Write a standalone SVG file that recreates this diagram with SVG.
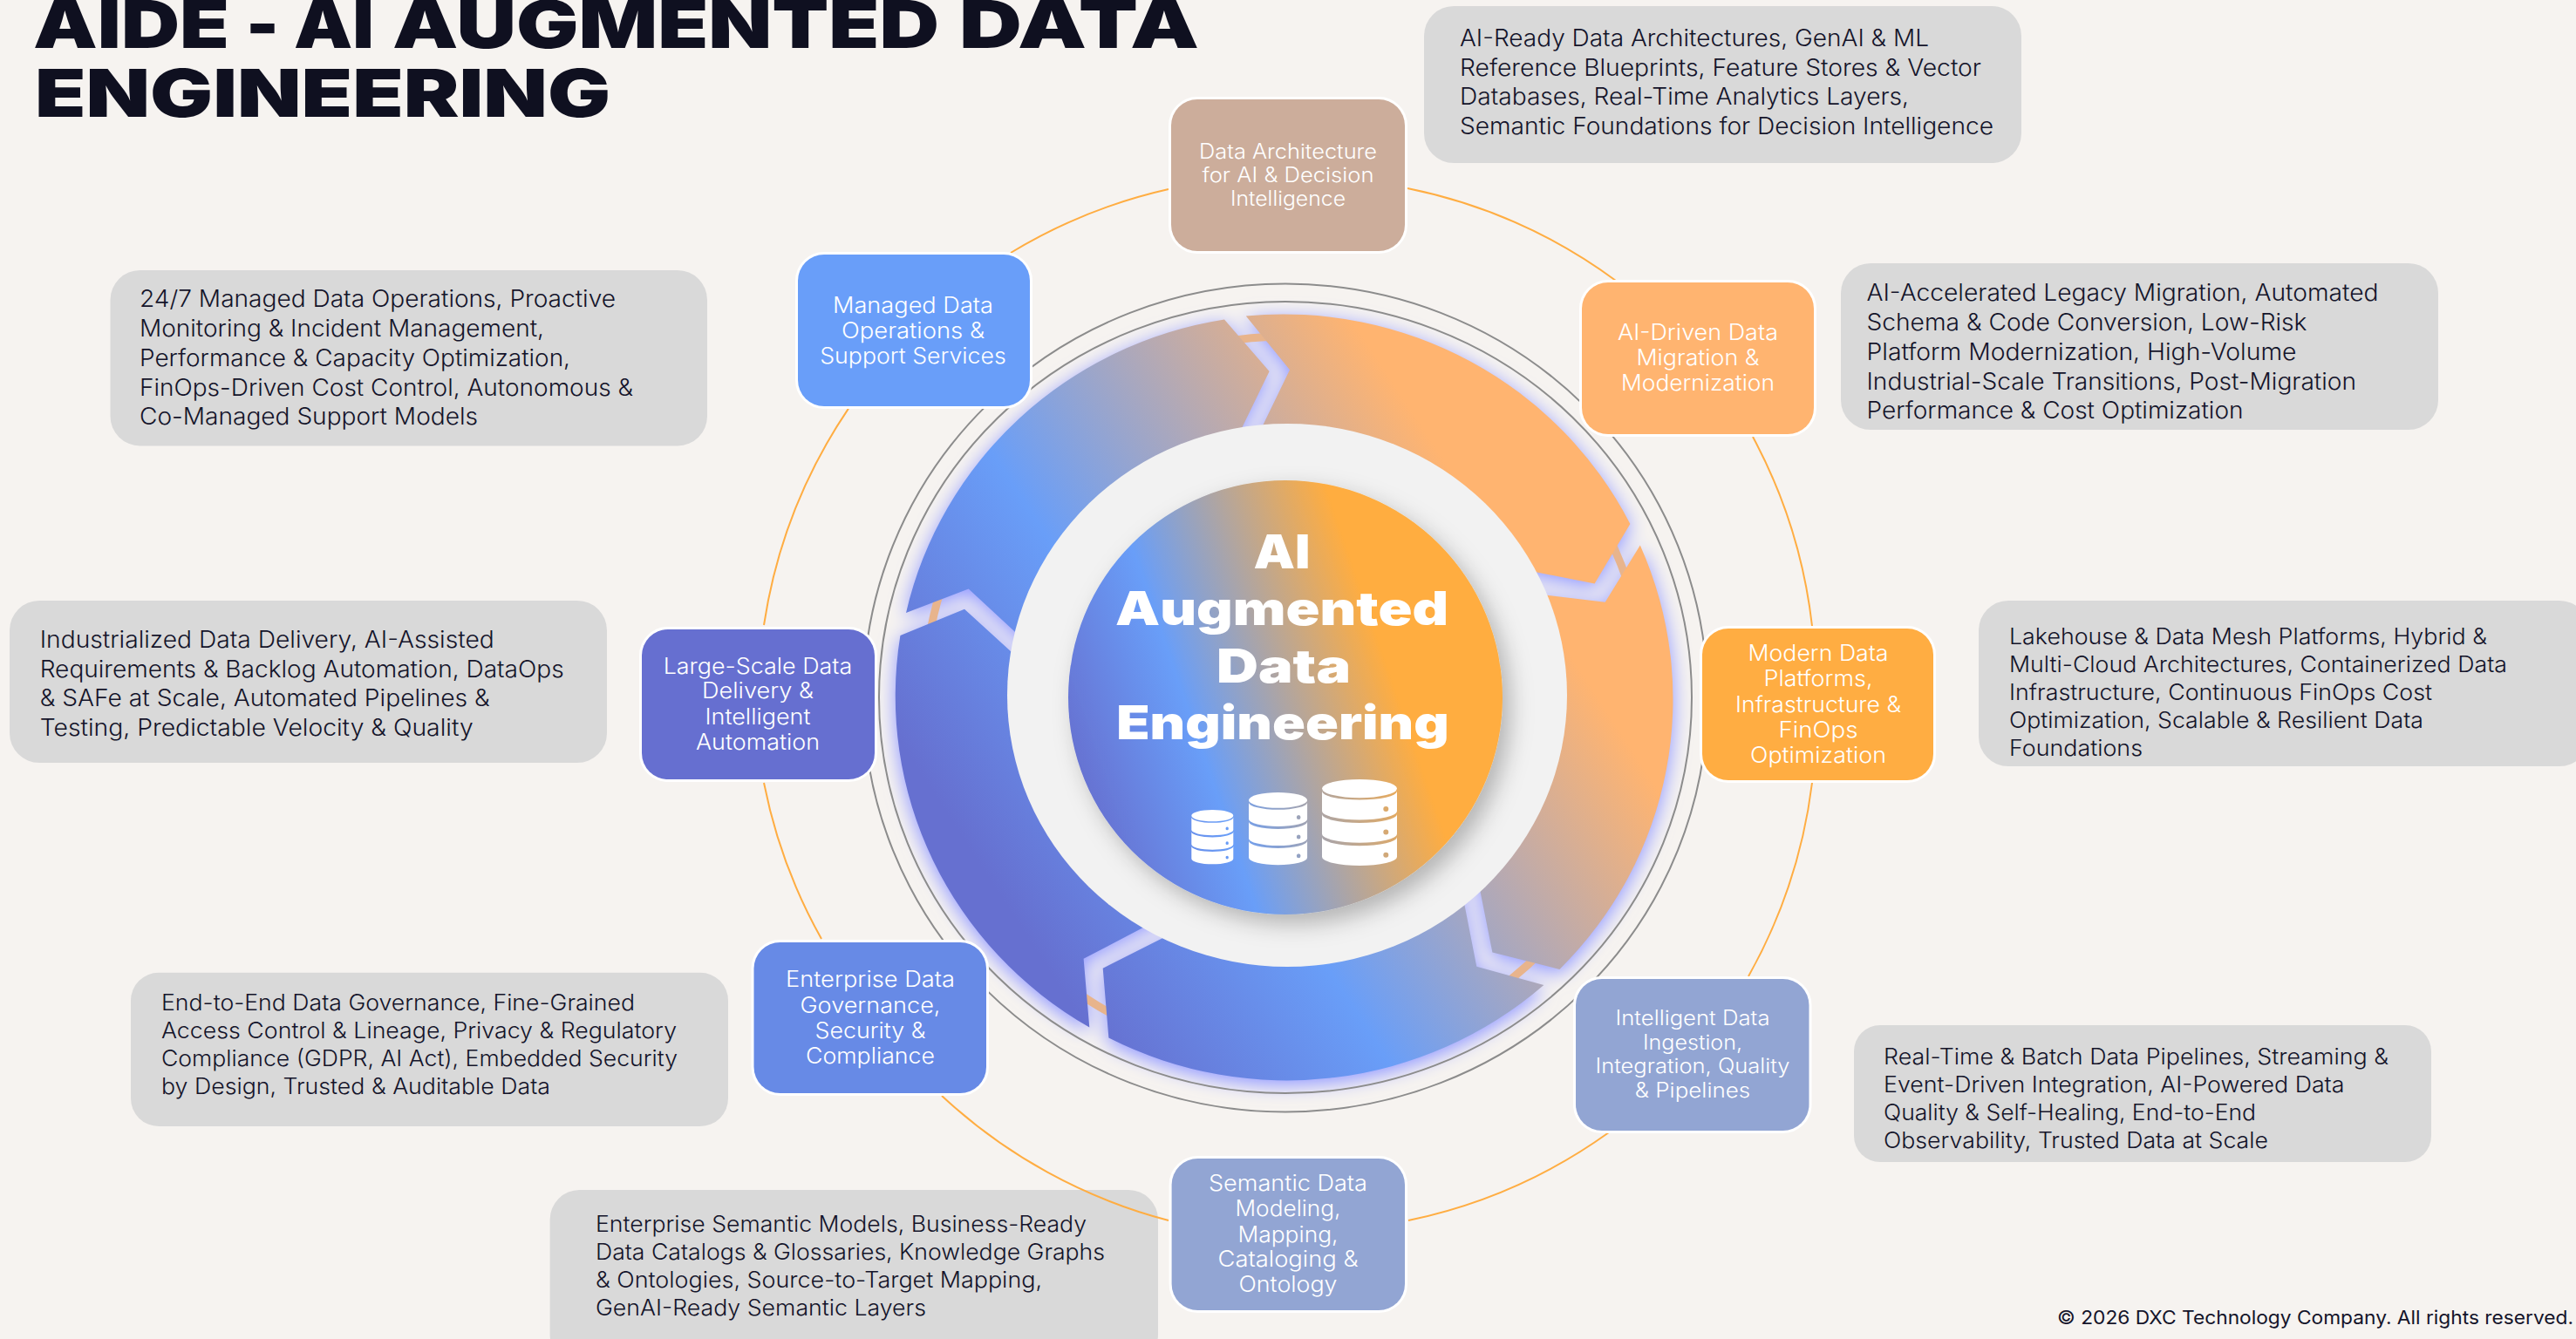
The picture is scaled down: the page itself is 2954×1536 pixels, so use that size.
<svg xmlns="http://www.w3.org/2000/svg" xmlns:xlink="http://www.w3.org/1999/xlink" width="2954" height="1536" viewBox="0 0 2954 1536">
<style>
text{font-family:"Inter","Liberation Sans",sans-serif}
.title{font-size:76px;font-weight:900;fill:#0f1020}
.hub{font-size:53px;font-weight:900;fill:#fff;text-anchor:middle}
.ct{font-weight:300;fill:#14142a}
.c1{font-size:26.5px}.c2{font-size:25.5px}
.nt{fill:#fff;font-weight:350;text-anchor:middle;font-size:25px}
.nts{font-size:23.5px}
.callout{fill:#d9d9d9}
.box{stroke:#fff;stroke-width:6;paint-order:stroke}
.arc{fill:none;stroke:#ffad42;stroke-width:2}
.ring{fill:none;stroke:#8c8c8c;stroke-width:2}
.copy{font-size:21.5px;font-weight:400;fill:#14142a}
</style>
<defs>
<linearGradient id="ringGrad" gradientUnits="userSpaceOnUse" x1="1140.5" y1="1017" x2="1726" y2="636">
<stop offset="0" stop-color="#6670d0"/><stop offset=".385" stop-color="#699ef8"/><stop offset="1" stop-color="#ffb470"/>
</linearGradient>
<linearGradient id="discGrad" gradientUnits="userSpaceOnUse" x1="1230" y1="883" x2="1590" y2="760">
<stop offset="0" stop-color="#6670d0"/><stop offset=".387" stop-color="#699ef8"/><stop offset="1" stop-color="#ffad40"/>
</linearGradient>
<filter id="glowOnly" x="-10%" y="-10%" width="120%" height="120%">
<feGaussianBlur in="SourceAlpha" stdDeviation="11"/>
<feOffset dy="5"/>
<feComponentTransfer result="a"><feFuncA type="linear" slope="1.25"/></feComponentTransfer>
<feFlood flood-color="#a2a8ff"/>
<feComposite in2="a" operator="in"/>
</filter>
<filter id="discShadow" x="-15%" y="-15%" width="130%" height="130%">
<feDropShadow dx="9" dy="11" stdDeviation="13" flood-color="#000" flood-opacity=".26"/>
</filter>
<g id="segments">
<path d="M1039 703A446 439 0 0 1 1404 366.6L1455.6 426L1410 520L1190 749L1110.7 675.6Z"/>
<path d="M1428.8 362.4A446 439 0 0 1 1869.4 601L1828.6 669.6L1720 648L1435 515L1479 424.2Z"/>
<path d="M1880.8 625.4A446 439 0 0 1 1788.4 1111.9L1711.4 1092.5L1690 985L1735 678L1840.7 690.8Z"/>
<path d="M1770.3 1130A446 439 0 0 1 1271.4 1190.6L1264.7 1110.7L1375 1055L1672 1000L1693.3 1108.8Z"/>
<path d="M1249.3 1178.5A446 439 0 0 1 1032.4 729L1106 698.7L1195 780L1355 1040L1310 1064.6L1242.6 1099.8Z"/>
</g>
<path id="db" fill="#fff" fill-rule="evenodd" d="M0 10.6A43 10.6 0 1 0 86 10.6A43 10.6 0 1 0 0 10.6ZM0 13.6A43 10 0 0 0 86 13.6V36.4A43 10 0 0 1 0 36.4ZM0 39.9A43 10 0 0 0 86 39.9V62.7A43 10 0 0 1 0 62.7ZM0 66.2A43 10 0 0 0 86 66.2V89A43 10 0 0 1 0 89ZM70.3 34a3 3 0 1 0 6 0a3 3 0 1 0 -6 0ZM70.3 60.6a3 3 0 1 0 6 0a3 3 0 1 0 -6 0ZM70.3 86.7a3 3 0 1 0 6 0a3 3 0 1 0 -6 0Z"/>
</defs>
<rect width="2954" height="1536" fill="#f6f3f0"/>

<g id="title">
<text class="title" y="55"><tspan x="38" textLength="225" lengthAdjust="spacingAndGlyphs">AIDE</tspan> <tspan x="282" textLength="38" lengthAdjust="spacingAndGlyphs">-</tspan> <tspan x="337" textLength="92" lengthAdjust="spacingAndGlyphs">AI</tspan> <tspan x="450" textLength="627" lengthAdjust="spacingAndGlyphs">AUGMENTED</tspan> <tspan x="1100" textLength="275" lengthAdjust="spacingAndGlyphs">DATA</tspan></text>
<text class="title" x="40" y="134" textLength="660" lengthAdjust="spacingAndGlyphs">ENGINEERING</text>
</g>

<g id="wheel">
<use href="#segments" filter="url(#glowOnly)"/>
<ellipse class="ring" cx="1474" cy="800.5" rx="484" ry="475"/>
<ellipse class="ring" cx="1474" cy="800" rx="466" ry="454"/>
<circle cx="1474" cy="800" r="414" fill="none" stroke="#e8b48c" stroke-width="9"/>
<use href="#segments" fill="url(#ringGrad)"/>
<ellipse cx="1476" cy="797.5" rx="321" ry="311.5" fill="#f2f2f2"/>
</g>

<g id="hub">
<circle cx="1474" cy="800" r="249" fill="url(#discGrad)" filter="url(#discShadow)"/>
<text class="hub" x="1470" y="652" textLength="65" lengthAdjust="spacingAndGlyphs">AI</text>
<text class="hub" x="1470" y="717" textLength="382" lengthAdjust="spacingAndGlyphs">Augmented</text>
<text class="hub" x="1472" y="782.5" textLength="154" lengthAdjust="spacingAndGlyphs">Data</text>
<text class="hub" x="1471" y="847.5" textLength="381.5" lengthAdjust="spacingAndGlyphs">Engineering</text>
<use href="#db" transform="translate(1516 894)"/>
<use href="#db" transform="translate(1432 909) scale(.78 .84)"/>
<use href="#db" transform="translate(1366.3 929) scale(.558 .63)"/>
</g>

<g id="callouts">
<g id="callout-architecture"><rect class="callout" x="1633" y="7" width="685" height="180" rx="34"/>
<text class="ct c1" x="1674" y="53" textLength="538" lengthAdjust="spacingAndGlyphs">AI-Ready Data Architectures, GenAI &amp; ML</text>
<text class="ct c1" x="1674" y="87" textLength="598" lengthAdjust="spacingAndGlyphs">Reference Blueprints, Feature Stores &amp; Vector</text>
<text class="ct c1" x="1674" y="120" textLength="515" lengthAdjust="spacingAndGlyphs">Databases, Real-Time Analytics Layers,</text>
<text class="ct c1" x="1674" y="154" textLength="612" lengthAdjust="spacingAndGlyphs">Semantic Foundations for Decision Intelligence</text></g>
<g id="callout-migration"><rect class="callout" x="2111" y="302" width="685" height="191" rx="34"/>
<text class="ct c1" x="2140.5" y="345" textLength="587" lengthAdjust="spacingAndGlyphs">AI-Accelerated Legacy Migration, Automated</text>
<text class="ct c1" x="2140.5" y="379" textLength="505" lengthAdjust="spacingAndGlyphs">Schema &amp; Code Conversion, Low-Risk</text>
<text class="ct c1" x="2140.5" y="413" textLength="493" lengthAdjust="spacingAndGlyphs">Platform Modernization, High-Volume</text>
<text class="ct c1" x="2140.5" y="447" textLength="561.5" lengthAdjust="spacingAndGlyphs">Industrial-Scale Transitions, Post-Migration</text>
<text class="ct c1" x="2140.5" y="480" textLength="432" lengthAdjust="spacingAndGlyphs">Performance &amp; Cost Optimization</text></g>
<g id="callout-platforms"><rect class="callout" x="2269" y="689" width="700" height="190" rx="34"/>
<text class="ct c2" x="2304" y="739" textLength="548" lengthAdjust="spacingAndGlyphs">Lakehouse &amp; Data Mesh Platforms, Hybrid &amp;</text>
<text class="ct c2" x="2304" y="771" textLength="571" lengthAdjust="spacingAndGlyphs">Multi-Cloud Architectures, Containerized Data</text>
<text class="ct c2" x="2304" y="803" textLength="485" lengthAdjust="spacingAndGlyphs">Infrastructure, Continuous FinOps Cost</text>
<text class="ct c2" x="2304" y="835" textLength="475" lengthAdjust="spacingAndGlyphs">Optimization, Scalable &amp; Resilient Data</text>
<text class="ct c2" x="2304" y="867" textLength="153" lengthAdjust="spacingAndGlyphs">Foundations</text></g>
<g id="callout-ingestion"><rect class="callout" x="2126" y="1176" width="662" height="157" rx="30"/>
<text class="ct c2" x="2160" y="1221" textLength="579" lengthAdjust="spacingAndGlyphs">Real-Time &amp; Batch Data Pipelines, Streaming &amp;</text>
<text class="ct c2" x="2160" y="1253" textLength="528.5" lengthAdjust="spacingAndGlyphs">Event-Driven Integration, AI-Powered Data</text>
<text class="ct c2" x="2160" y="1285" textLength="427" lengthAdjust="spacingAndGlyphs">Quality &amp; Self-Healing, End-to-End</text>
<text class="ct c2" x="2160" y="1317" textLength="441" lengthAdjust="spacingAndGlyphs">Observability, Trusted Data at Scale</text></g>
<g id="callout-semantic"><rect class="callout" x="630.6" y="1365" width="697.4" height="200" rx="34"/>
<text class="ct c2" x="683" y="1413" textLength="563" lengthAdjust="spacingAndGlyphs">Enterprise Semantic Models, Business-Ready</text>
<text class="ct c2" x="683" y="1445" textLength="584" lengthAdjust="spacingAndGlyphs">Data Catalogs &amp; Glossaries, Knowledge Graphs</text>
<text class="ct c2" x="683" y="1477" textLength="512" lengthAdjust="spacingAndGlyphs">&amp; Ontologies, Source-to-Target Mapping,</text>
<text class="ct c2" x="683" y="1509" textLength="379" lengthAdjust="spacingAndGlyphs">GenAI-Ready Semantic Layers</text></g>
<g id="callout-governance"><rect class="callout" x="150" y="1115.7" width="685" height="176.3" rx="32"/>
<text class="ct c2" x="185" y="1159" textLength="543" lengthAdjust="spacingAndGlyphs">End-to-End Data Governance, Fine-Grained</text>
<text class="ct c2" x="185" y="1191" textLength="591" lengthAdjust="spacingAndGlyphs">Access Control &amp; Lineage, Privacy &amp; Regulatory</text>
<text class="ct c2" x="185" y="1223" textLength="592" lengthAdjust="spacingAndGlyphs">Compliance (GDPR, AI Act), Embedded Security</text>
<text class="ct c2" x="185" y="1255" textLength="446" lengthAdjust="spacingAndGlyphs">by Design, Trusted &amp; Auditable Data</text></g>
<g id="callout-delivery"><rect class="callout" x="11" y="689" width="685" height="186" rx="34"/>
<text class="ct c1" x="45.7" y="743" textLength="521" lengthAdjust="spacingAndGlyphs">Industrialized Data Delivery, AI-Assisted</text>
<text class="ct c1" x="45.7" y="776.5" textLength="601" lengthAdjust="spacingAndGlyphs">Requirements &amp; Backlog Automation, DataOps</text>
<text class="ct c1" x="45.7" y="810" textLength="516" lengthAdjust="spacingAndGlyphs">&amp; SAFe at Scale, Automated Pipelines &amp;</text>
<text class="ct c1" x="45.7" y="843.5" textLength="497" lengthAdjust="spacingAndGlyphs">Testing, Predictable Velocity &amp; Quality</text></g>
<g id="callout-operations"><rect class="callout" x="126.5" y="310" width="684.5" height="201.4" rx="34"/>
<text class="ct c1" x="160" y="352" textLength="546" lengthAdjust="spacingAndGlyphs">24/7 Managed Data Operations, Proactive</text>
<text class="ct c1" x="160" y="386" textLength="464" lengthAdjust="spacingAndGlyphs">Monitoring &amp; Incident Management,</text>
<text class="ct c1" x="160" y="420" textLength="494" lengthAdjust="spacingAndGlyphs">Performance &amp; Capacity Optimization,</text>
<text class="ct c1" x="160" y="453.5" textLength="566" lengthAdjust="spacingAndGlyphs">FinOps-Driven Cost Control, Autonomous &amp;</text>
<text class="ct c1" x="160" y="487" textLength="388" lengthAdjust="spacingAndGlyphs">Co-Managed Support Models</text></g>
</g>

<g id="connectors">
<path class="arc" d="M1614 216A606 606 0 0 1 1853 322"/>
<path class="arc" d="M2010 501A606 606 0 0 1 2078 718"/>
<path class="arc" d="M2078 898A606 606 0 0 1 2005 1120"/>
<path class="arc" d="M1845 1299A606 606 0 0 1 1615 1400"/>
<path class="arc" d="M1340 1400A606 606 0 0 1 1080 1257"/>
<path class="arc" d="M942 1077A606 606 0 0 1 876 898"/>
<path class="arc" d="M876 717A606 606 0 0 1 973 468.6"/>
<path class="arc" d="M1159 290A606 606 0 0 1 1340 217"/>
</g>

<g id="node-architecture"><rect class="box" x="1343" y="114" width="268" height="174" rx="30" fill="#ccad9b"/>
<text class="nt nts" x="1477" y="181.5" textLength="204" lengthAdjust="spacingAndGlyphs">Data Architecture</text>
<text class="nt nts" x="1477" y="209" textLength="197" lengthAdjust="spacingAndGlyphs">for AI &amp; Decision</text>
<text class="nt nts" x="1477" y="236" textLength="132" lengthAdjust="spacingAndGlyphs">Intelligence</text></g>
<g id="node-migration"><rect class="box" x="1814" y="324" width="266" height="174" rx="30" fill="#ffb470"/>
<text class="nt" x="1947" y="390" textLength="184" lengthAdjust="spacingAndGlyphs">AI-Driven Data</text>
<text class="nt" x="1947" y="419" textLength="141" lengthAdjust="spacingAndGlyphs">Migration &amp;</text>
<text class="nt" x="1947" y="448" textLength="176" lengthAdjust="spacingAndGlyphs">Modernization</text></g>
<g id="node-platforms"><rect class="box" x="1952" y="721" width="265" height="174" rx="30" fill="#ffad42"/>
<text class="nt" x="2085" y="758" textLength="161" lengthAdjust="spacingAndGlyphs">Modern Data</text>
<text class="nt" x="2085" y="787" textLength="125" lengthAdjust="spacingAndGlyphs">Platforms,</text>
<text class="nt" x="2085" y="817" textLength="190" lengthAdjust="spacingAndGlyphs">Infrastructure &amp;</text>
<text class="nt" x="2085" y="846" textLength="91" lengthAdjust="spacingAndGlyphs">FinOps</text>
<text class="nt" x="2085" y="875" textLength="156" lengthAdjust="spacingAndGlyphs">Optimization</text></g>
<g id="node-ingestion"><rect class="box" x="1807" y="1123" width="267.5" height="174" rx="30" fill="#92a5d3"/>
<text class="nt nts" x="1941" y="1176" textLength="177" lengthAdjust="spacingAndGlyphs">Intelligent Data</text>
<text class="nt nts" x="1941" y="1204" textLength="114" lengthAdjust="spacingAndGlyphs">Ingestion,</text>
<text class="nt nts" x="1941" y="1231" textLength="223" lengthAdjust="spacingAndGlyphs">Integration, Quality</text>
<text class="nt nts" x="1941" y="1259" textLength="132.5" lengthAdjust="spacingAndGlyphs">&amp; Pipelines</text></g>
<g id="node-semantic"><rect class="box" x="1343.6" y="1329" width="267.4" height="174" rx="30" fill="#92a5d3"/>
<text class="nt" x="1477" y="1366" textLength="182" lengthAdjust="spacingAndGlyphs">Semantic Data</text>
<text class="nt" x="1477" y="1395" textLength="121" lengthAdjust="spacingAndGlyphs">Modeling,</text>
<text class="nt" x="1477" y="1425" textLength="115" lengthAdjust="spacingAndGlyphs">Mapping,</text>
<text class="nt" x="1477" y="1453" textLength="161" lengthAdjust="spacingAndGlyphs">Cataloging &amp;</text>
<text class="nt" x="1477" y="1482" textLength="113" lengthAdjust="spacingAndGlyphs">Ontology</text></g>
<g id="node-governance"><rect class="box" x="864.5" y="1081" width="266.5" height="173" rx="30" fill="#678ae6"/>
<text class="nt" x="998" y="1132" textLength="194" lengthAdjust="spacingAndGlyphs">Enterprise Data</text>
<text class="nt" x="998" y="1162" textLength="161" lengthAdjust="spacingAndGlyphs">Governance,</text>
<text class="nt" x="998" y="1191" textLength="127" lengthAdjust="spacingAndGlyphs">Security &amp;</text>
<text class="nt" x="998" y="1220" textLength="148" lengthAdjust="spacingAndGlyphs">Compliance</text></g>
<g id="node-delivery"><rect class="box" x="736" y="722" width="267" height="172" rx="30" fill="#666fd0"/>
<text class="nt" x="869" y="773" textLength="216.6" lengthAdjust="spacingAndGlyphs">Large-Scale Data</text>
<text class="nt" x="869" y="801" textLength="128" lengthAdjust="spacingAndGlyphs">Delivery &amp;</text>
<text class="nt" x="869" y="830.5" textLength="121" lengthAdjust="spacingAndGlyphs">Intelligent</text>
<text class="nt" x="869" y="859.5" textLength="142" lengthAdjust="spacingAndGlyphs">Automation</text></g>
<g id="node-operations"><rect class="box" x="915" y="292" width="266" height="174" rx="30" fill="#699ef9"/>
<text class="nt" x="1047" y="358.5" textLength="184" lengthAdjust="spacingAndGlyphs">Managed Data</text>
<text class="nt" x="1047" y="387.5" textLength="164" lengthAdjust="spacingAndGlyphs">Operations &amp;</text>
<text class="nt" x="1047" y="416.5" textLength="213.5" lengthAdjust="spacingAndGlyphs">Support Services</text></g>

<text class="copy" x="2359" y="1519" textLength="592" lengthAdjust="spacingAndGlyphs">© 2026 DXC Technology Company. All rights reserved.</text>
</svg>
